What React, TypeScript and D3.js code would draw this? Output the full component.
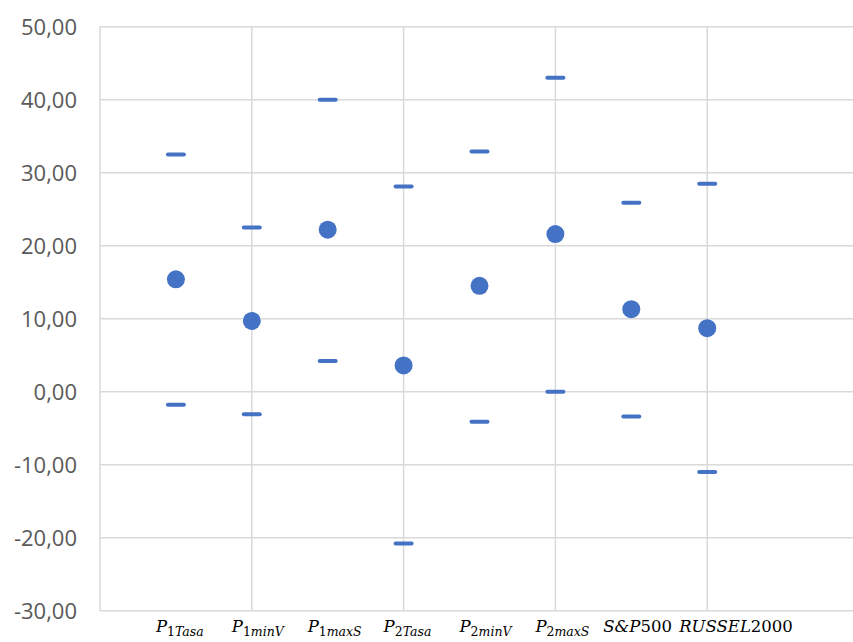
import * as React from 'react';
import * as d3 from 'd3';

// category labels: italic main part + subscript part (digits drawn upright)
const categories = ['P1Tasa', 'P1minV', 'P1maxS', 'P2Tasa', 'P2minV', 'P2maxS', 'S&P500', 'RUSSEL2000'];
const labelMain = ['P', 'P', 'P', 'P', 'P', 'P', 'S&P', 'RUSSEL'];
const labelSubDigit = ['1', '1', '1', '2', '2', '2', '', ''];
const labelSubText = ['Tasa', 'minV', 'maxS', 'Tasa', 'minV', 'maxS', '', ''];
const labelTail = ['', '', '', '', '', '', '500', '2000'];

const maxValues = [32.5, 22.5, 40.0, 28.1, 32.9, 43.0, 25.9, 28.5];
const meanValues = [15.4, 9.7, 22.2, 3.6, 14.5, 21.6, 11.3, 8.7];
const minValues = [-1.8, -3.1, 4.2, -20.8, -4.1, 0.0, -3.4, -11.0];

const yTicks = [-30, -20, -10, 0, 10, 20, 30, 40, 50];
const xGridTicks = [0, 2, 4, 6, 8, 10];

const W = 853;
const H = 642;
const BLUE = '#4472C4';
const GRID = '#d9d9d9';

export default function App() {
    const xScale = d3.scaleLinear().domain([0, 10]).range([100, 859]);
    const yScale = d3.scaleLinear().domain([-30, 50]).range([610.7, 26.7]);

    // excel style: comma decimal, plain hyphen minus
    const fmt = (v: number) => d3.format('.2f')(v).replace('.', ',').replace('\u2212', '-');

    return (
        <svg width={W} height={H} style={{ position: 'absolute', left: 0, top: 0, background: '#fff' }}>
            {/* horizontal grid */}
            {yTicks.map(t => (
                <line key={'h' + t} x1={xScale(0)} x2={W} y1={yScale(t)} y2={yScale(t)}
                    stroke={GRID} strokeWidth={1.5} />
            ))}
            {/* vertical grid */}
            {xGridTicks.map(t => (
                <line key={'v' + t} x1={xScale(t)} x2={xScale(t)} y1={yScale(50)} y2={yScale(-30)}
                    stroke={GRID} strokeWidth={1.5} />
            ))}
            {/* y tick labels */}
            {yTicks.map(t => (
                <text key={'yl' + t} x={77} y={yScale(t)} dy="0.36em" textAnchor="end"
                    fontFamily="'Open Sans', sans-serif" fontSize={22} fill="#595959">
                    {fmt(t)}
                </text>
            ))}
            {/* max / min dashes and mean dots */}
            {categories.map((c, i) => (
                <g key={'m' + c}>
                    <rect x={xScale(i + 1) - 10} y={yScale(maxValues[i]) - 2} width={20} height={4} rx={2} fill={BLUE} />
                    <rect x={xScale(i + 1) - 10} y={yScale(minValues[i]) - 2} width={20} height={4} rx={2} fill={BLUE} />
                    <circle cx={xScale(i + 1)} cy={yScale(meanValues[i])} r={9} fill={BLUE} />
                </g>
            ))}
            {/* category labels, left-aligned a bit before each point */}
            {categories.map((c, i) => (
                <text key={'xl' + c} x={xScale(i + 1) - (labelTail[i] ? 28 : 20)} y={632} textAnchor="start"
                    fontFamily="'DejaVu Serif', serif" fontSize={16.5} fill="#000">
                    <tspan fontStyle="italic">{labelMain[i]}</tspan>
                    {labelSubDigit[i] && (
                        <tspan fontSize={12.5} dy={4}>{labelSubDigit[i]}</tspan>
                    )}
                    {labelSubText[i] && (
                        <tspan fontSize={12.5} fontStyle="italic">{labelSubText[i]}</tspan>
                    )}
                    {labelTail[i] && <tspan>{labelTail[i]}</tspan>}
                </text>
            ))}
        </svg>
    );
}
